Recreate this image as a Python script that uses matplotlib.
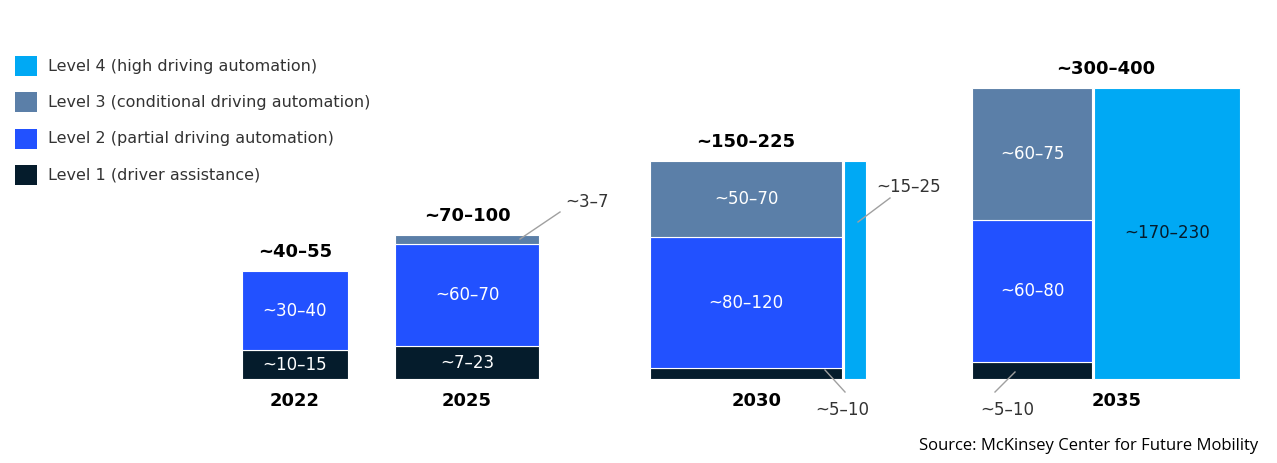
import matplotlib
matplotlib.use("Agg")
import matplotlib.pyplot as plt
from matplotlib.patches import Rectangle

years = ["2022", "2025", "2030", "2035"]
totals = ["~40–55", "~70–100", "~150–225", "~300–400"]
levels = ["Level 1 (driver assistance)", "Level 2 (partial driving automation)",
          "Level 3 (conditional driving automation)", "Level 4 (high driving automation)"]
colors = ["#051C2C", "#2251FF", "#5B7FA8", "#00A9F4"]
# segment heights (display units) for L1, L2, L3 in main bar
l1 = [29, 33, 11, 17]
l2 = [79, 102, 131, 142]
l3 = [0, 9, 76, 132]
l4 = [0, 0, 218, 291]
l1_lab = ["~10–15", "~7–23", "~5–10", "~5–10"]
l2_lab = ["~30–40", "~60–70", "~80–120", "~60–80"]
l3_lab = ["", "~3–7", "~50–70", "~60–75"]
l4_lab = ["", "", "~15–25", "~170–230"]

H = 463
fig = plt.figure(figsize=(12.77, 4.63), dpi=100)
ax = fig.add_axes([0, 0, 1, 1])
ax.set_xlim(0, 1277); ax.set_ylim(0, H); ax.axis("off")
base = H - 379
lefts = [242, 395, 650, 972]
widths = [106, 144, 192, 120]
l4_left = [None, None, 844, 1094]
l4_w = [0, 0, 22, 146]
ec = "white"
for i in range(4):
    x, w = lefts[i], widths[i]
    y = base
    for v, c, lab in [(l1[i], colors[0], l1_lab[i]), (l2[i], colors[1], l2_lab[i]), (l3[i], colors[2], l3_lab[i])]:
        if v:
            ax.add_patch(Rectangle((x, y), w, v, fc=c, ec=ec, lw=0.8))
            if lab and v > 20:
                ax.text(x + w/2, y + v/2, lab, color="white", ha="center", va="center", fontsize=12)
        y += v
    top = y
    if l4[i]:
        ax.add_patch(Rectangle((l4_left[i], base), l4_w[i], l4[i], fc=colors[3], ec=ec, lw=0.8))
        top = max(top, base + l4[i])
        if l4_w[i] > 50:
            ax.text(l4_left[i] + l4_w[i]/2, base + l4[i]/2, l4_lab[i], color="#051C2C", ha="center", va="center", fontsize=12)
    ax.text(x + w/2 if l4_w[i] < 50 else (x + l4_left[i] + l4_w[i]) / 2, top + 10, totals[i], fontweight="bold", ha="center", va="bottom", fontsize=13)

# year labels
ax.text(295, H - 401, "2022", fontweight="bold", ha="center", va="center", fontsize=13)
ax.text(467, H - 401, "2025", fontweight="bold", ha="center", va="center", fontsize=13)
ax.text(757, H - 401, "2030", fontweight="bold", ha="center", va="center", fontsize=13)
ax.text(1117, H - 401, "2035", fontweight="bold", ha="center", va="center", fontsize=13)

gray = "#A0A0A0"
# callouts
ax.plot([520, 560], [H - 239, H - 212], color=gray, lw=1)
ax.text(565, H - 202, l3_lab[1], fontsize=12, va="center", ha="left", color="#333333")
ax.plot([858, 890], [H - 222, H - 198], color=gray, lw=1)
ax.text(876, H - 187, l4_lab[2], fontsize=12, va="center", ha="left", color="#333333")
ax.plot([825, 845], [H - 370, H - 392], color=gray, lw=1)
ax.text(815, H - 410, l1_lab[2], fontsize=12, va="center", ha="left", color="#333333")
ax.plot([1015, 995], [H - 372, H - 392], color=gray, lw=1)
ax.text(980, H - 410, l1_lab[3], fontsize=12, va="center", ha="left", color="#333333")

# legend
for k, (lvl, yy) in enumerate(zip([3, 2, 1, 0], [66, 102, 139, 175])):
    ax.add_patch(Rectangle((15, H - yy - 10), 22, 20, fc=colors[lvl], ec="none"))
    ax.text(48, H - yy, levels[lvl], fontsize=11.5, va="center", ha="left", color="#333333")

ax.text(1258, H - 446, "Source: McKinsey Center for Future Mobility", fontsize=12, ha="right", va="center", family="Open Sans")
fig.savefig("out.png", dpi=100)
